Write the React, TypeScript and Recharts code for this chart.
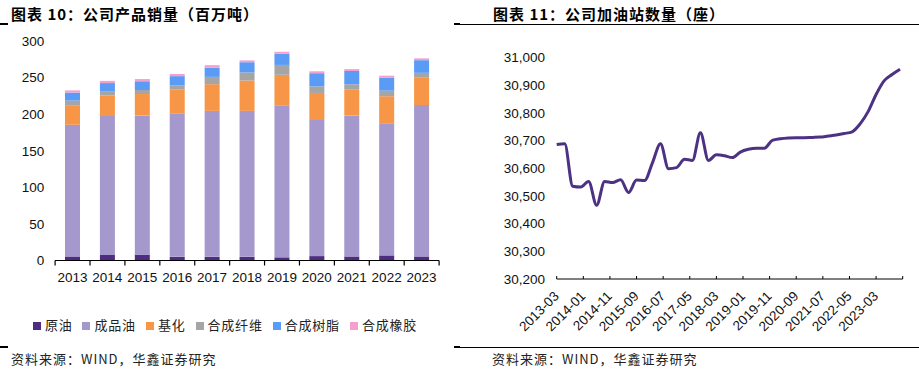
import {
  Bar,
  BarChart,
  Legend,
  Line,
  LineChart,
  XAxis,
  YAxis,
} from "recharts";

// 图表10：公司产品销量（百万吨）
const YEARS = ["2013", "2014", "2015", "2016", "2017", "2018", "2019", "2020", "2021", "2022", "2023"];
const CRUDE = [5.5, 7.5, 8, 5, 5, 5, 4.3, 6, 5.5, 7, 5.5];
const REFINED = [180, 190, 190, 195.5, 199.5, 199.5, 208, 186, 192.5, 180.5, 207];
const BASIC_CHEM = [26, 28, 29.5, 33, 36.5, 41.5, 41.5, 37, 36, 37, 38];
const FIBER = [7, 6, 5.5, 6, 10, 11, 13.5, 9, 6.7, 7.6, 6];
const RESIN = [11, 11, 12, 12.5, 12.5, 14, 15.5, 18, 18.3, 17.5, 17.3];
const RUBBER = [3, 3, 3, 3, 3.5, 2.5, 2.5, 2.6, 2.6, 3, 2.5];
const SALES_TICKS = [0, 50, 100, 150, 200, 250, 300];

// 图表11：公司加油站数量（座），季度数据
const STATION_DATES = [
  "2013-03", "2013-06", "2013-09", "2013-12",
  "2014-03", "2014-06", "2014-09", "2014-12",
  "2015-03", "2015-06", "2015-09", "2015-12",
  "2016-03", "2016-06", "2016-09", "2016-12",
  "2017-03", "2017-06", "2017-09", "2017-12",
  "2018-03", "2018-06", "2018-09", "2018-12",
  "2019-03", "2019-06", "2019-09", "2019-12",
  "2020-03", "2020-06", "2020-09", "2020-12",
  "2021-03", "2021-06", "2021-09", "2021-12",
  "2022-03", "2022-06", "2022-09", "2022-12",
  "2023-03", "2023-06", "2023-09", "2023-12",
];
const STATIONS = [
  30685, 30688, 30535, 30532,
  30552, 30466, 30552, 30548,
  30558, 30512, 30557, 30555,
  30620, 30688, 30598, 30602,
  30632, 30628, 30728, 30628,
  30648, 30645, 30638, 30658,
  30668, 30672, 30672, 30700,
  30706, 30709, 30710, 30710,
  30711, 30712, 30716, 30720,
  30725, 30731, 30760, 30804,
  30866, 30915, 30938, 30957,
];
const STATION_TICKS = [30200, 30300, 30400, 30500, 30600, 30700, 30800, 30900, 31000];
const MONTH_TICKS = [0, 10, 20, 30, 40, 50, 60, 70, 80, 90, 100, 110, 120, 130];

const SERIES = [
  { key: "crude", name: "原油", color: "#4E2C82", values: CRUDE },
  { key: "refined", name: "成品油", color: "#A598CC", values: REFINED },
  { key: "chem", name: "基化", color: "#F79646", values: BASIC_CHEM },
  { key: "fiber", name: "合成纤维", color: "#A5A5A5", values: FIBER },
  { key: "resin", name: "合成树脂", color: "#5A9BF6", values: RESIN },
  { key: "rubber", name: "合成橡胶", color: "#F59FCF", values: RUBBER },
];

const salesData = YEARS.map((y, i) => {
  const row: Record<string, string | number> = { year: y };
  SERIES.forEach((s) => (row[s.key] = s.values[i]));
  return row;
});

// months since 2013-03
const toMonth = (d: string) => {
  const [y, m] = d.split("-").map(Number);
  return (y - 2013) * 12 + (m - 3);
};
const fromMonth = (n: number) => {
  const t = n + 2;
  const y = 2013 + Math.floor(t / 12);
  const m = (t % 12) + 1;
  return `${y}-${m < 10 ? "0" + m : m}`;
};

const stationData = STATION_DATES.map((d, i) => ({ m: toMonth(d), v: STATIONS[i] }));

const AXIS_FONT = "'Liberation Sans', Arial, sans-serif";
const CJK_FONT = "'Noto Sans CJK SC', sans-serif";

// plot width / categories -> half a band (tick marks sit between the years)
const HALF_BAND = (460 - 55 - 21) / YEARS.length / 2;

function YearTick(props: any) {
  const { x, y, payload, index, visibleTicksCount } = props;
  const last = index === YEARS.length - 1 || index === visibleTicksCount - 1;
  return (
    <g>
      <rect x={x - HALF_BAND - 0.5} y={y} width={1.2} height={5} fill="#000" />
      {last && <rect x={x + HALF_BAND - 0.5} y={y} width={1.2} height={5} fill="#000" />}
      <text x={x} y={y + 21.5} textAnchor="middle" fill="#111" fontSize={13.5} fontFamily={AXIS_FONT}>
        {payload.value}
      </text>
    </g>
  );
}

function MonthTick(props: any) {
  const { x, y, payload } = props;
  const label = payload.value >= 130 ? "" : fromMonth(payload.value);
  const tx = x + 3;
  const ty = y + 18;
  return (
    <text
      x={tx}
      y={ty}
      textAnchor="end"
      transform={`rotate(-45, ${tx}, ${ty})`}
      fill="#111"
      fontSize={13.5}
      fontFamily={AXIS_FONT}
    >
      {label}
    </text>
  );
}

const titleStyle: React.CSSProperties = {
  position: "absolute",
  top: 5,
  fontFamily: CJK_FONT,
  fontWeight: 700,
  fontSize: 15,
  letterSpacing: 1,
  lineHeight: "18px",
  color: "#000",
  whiteSpace: "nowrap",
};

const footStyle: React.CSSProperties = {
  position: "absolute",
  top: 350,
  fontFamily: CJK_FONT,
  fontSize: 13,
  letterSpacing: 1,
  lineHeight: "18px",
  color: "#222",
  whiteSpace: "nowrap",
};

const rule = (left: number, top: number, width: number): React.CSSProperties => ({
  position: "absolute",
  left,
  top,
  width,
  height: 1.5,
  background: "#000",
});

const seriesOrder = (item: any) => SERIES.findIndex((s) => s.key === item.dataKey);

export default function App() {
  return (
    <div style={{ position: "absolute", left: 0, top: 0, width: 919, height: 371, background: "#fff", overflow: "hidden" }}>
      {/* left panel */}
      <div style={{ ...titleStyle, left: 11 }}>图表 10：公司产品销量（百万吨）</div>
      <div style={rule(0, 23, 8)} />
      <div style={rule(454, 23, 6)} />
      <div style={{ position: "absolute", left: 0, top: 0 }}>
        <BarChart
          width={460}
          height={346}
          data={salesData}
          margin={{ top: 41, right: 21, left: 0, bottom: 46 }}
          barSize={15}
        >
          <XAxis
            dataKey="year"
            height={39.5}
            tickSize={0}
            tickMargin={0}
            tickLine={false}
            axisLine={{ stroke: "#000", strokeWidth: 1 }}
            tick={(p: any) => <YearTick {...p} />}
            interval={0}
          />
          <YAxis
            width={55}
            domain={[0, 300]}
            ticks={SALES_TICKS}
            axisLine={false}
            tickLine={false}
            tickSize={0}
            tickMargin={10.7}
            tick={{ fill: "#111", fontSize: 13.5, fontFamily: AXIS_FONT }}
          />
          {SERIES.map((s) => (
            <Bar key={s.key} dataKey={s.key} name={s.name} stackId="a" fill={s.color} isAnimationActive={false} />
          ))}
          <Legend
            verticalAlign="middle"
            layout="horizontal"
            align="center"
            iconType="square"
            iconSize={8}
            itemSorter={seriesOrder}
            wrapperStyle={{ top: 315, left: 0, width: 460, fontFamily: CJK_FONT, fontSize: 13, letterSpacing: 0.8 }}
            formatter={(value) => <span style={{ color: "#222" }}>{value}</span>}
          />
        </BarChart>
      </div>
      <div style={{ ...footStyle, left: 11 }}>资料来源：WIND，华鑫证券研究</div>
      <div style={rule(0, 346, 8)} />
      <div style={rule(454, 346, 6)} />

      {/* right panel */}
      <div style={{ ...titleStyle, left: 493 }}>图表 11：公司加油站数量（座）</div>
      <div style={rule(460, 23.5, 459)} />
      <div style={{ position: "absolute", left: 460, top: 0 }}>
        <LineChart
          width={459}
          height={346}
          data={stationData}
          margin={{ top: 57.3, right: 16.3, left: 0, bottom: 0 }}
        >
          <XAxis
            dataKey="m"
            type="number"
            domain={[0, 130]}
            ticks={MONTH_TICKS}
            height={67}
            tickSize={-3}
            tickMargin={3}
            tickLine={{ stroke: "#000" }}
            axisLine={{ stroke: "#000", strokeWidth: 1 }}
            tick={<MonthTick />}
            interval={0}
          />
          <YAxis
            width={96.7}
            domain={[30200, 31000]}
            ticks={STATION_TICKS}
            axisLine={false}
            tickLine={false}
            tickSize={0}
            tickMargin={11.7}
            tickFormatter={(v) => Number(v).toLocaleString("en-US")}
            tick={{ fill: "#111", fontSize: 13.5, fontFamily: AXIS_FONT }}
          />
          <Line
            type="monotone"
            dataKey="v"
            stroke="#4D3182"
            strokeWidth={3}
            dot={false}
            isAnimationActive={false}
          />
        </LineChart>
      </div>
      <div style={{ ...footStyle, left: 492 }}>资料来源：WIND，华鑫证券研究</div>
      <div style={rule(460, 346.5, 459)} />
    </div>
  );
}
